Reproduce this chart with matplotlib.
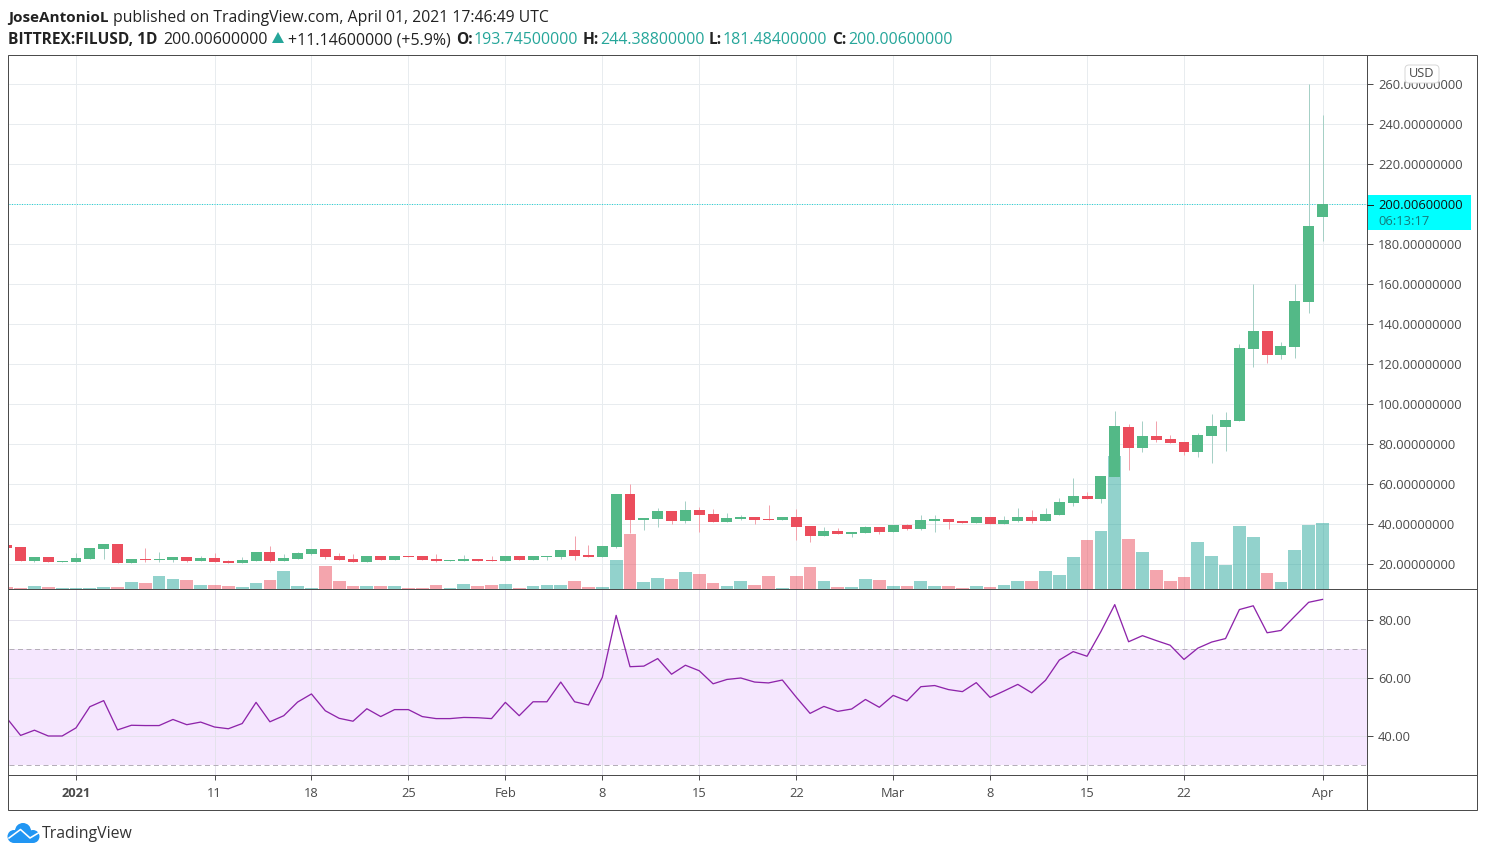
import matplotlib
matplotlib.use("Agg")
import matplotlib.pyplot as plt
from matplotlib.patches import Rectangle, FancyBboxPatch, Circle, Polygon

plt.rcParams['font.family'] = ['Open Sans', 'DejaVu Sans']

# ---------- data (day 0 = 1 Jan 2021) ----------
days = list(range(-5, 91))
opens = [29.3,28.7,21.7,23.7,21.2,21.2,22.7,27.7,30.2,20.7,22.7,22.2,22.2,23.7,21.7,23.2,21.7,20.7,21.7,26.2,
         21.7,22.7,25.2,27.7,24.2,22.7,21.2,24.2,22.2,24.2,24.2,22.7,21.7,21.7,22.7,22.2,
         21.7,24.2,22.2,23.7,23.7,27.2,24.7,23.7,28.7,55.2,42.2,42.7,46.7,41.7,47.2,45.2,41.2,42.7,43.7,42.7,42.2,
         43.7,39.2,34.2,36.7,35.2,35.7,38.7,36.2,39.7,37.7,41.7,42.7,41.7,40.7,43.7,
         40.2,41.7,43.7,41.7,44.7,50.7,54.2,52.7,63.7,88.7,78.2,84.2,82.7,81.2,76.2,84.2,88.7,91.7,127.5,136.5,124.5,128.7,151.0,193.7]
highs = [29.3,28.7,23.7,23.7,21.7,25.7,28.2,30.2,30.2,22.7,28.2,26.2,23.7,23.7,24.2,25.7,22.2,23.7,26.2,29.2,
         25.2,26.2,27.7,27.7,25.7,25.2,24.2,24.2,24.2,24.2,24.2,25.2,22.2,24.7,22.7,24.2,
         24.2,24.2,24.2,24.2,27.2,34.2,29.7,29.2,55.2,60.2,43.2,48.2,46.7,51.7,48.7,47.7,45.7,44.7,43.7,49.7,43.7,
         47.7,39.2,38.7,38.2,36.2,39.2,38.7,39.7,40.2,44.7,44.7,42.7,41.7,43.7,43.7,
         44.2,48.2,47.2,48.2,53.2,63.2,56.2,64.2,96.7,90.2,91.7,91.7,84.7,81.2,85.7,95.2,96.2,130.0,160.0,136.5,131.0,160.0,260.0,244.4]
lows = [28.2,21.7,21.2,20.8,21.2,21.2,22.7,22.7,20.7,20.7,21.2,20.8,21.2,21.2,21.7,21.2,20.7,20.7,21.7,21.2,
        21.7,22.7,24.7,22.7,22.2,21.2,21.2,22.2,22.2,23.7,22.2,21.2,21.7,21.7,21.7,21.7,
        21.7,22.2,22.2,22.2,22.7,22.2,23.7,23.7,28.2,35.7,37.2,38.7,40.2,40.7,36.2,41.2,41.2,42.2,40.2,42.2,42.2,
        32.2,31.2,34.2,35.2,33.7,35.7,35.2,36.2,37.2,37.2,36.2,37.7,40.7,40.7,40.2,
        40.2,41.2,40.7,41.7,44.7,49.2,52.7,50.7,63.7,67.2,76.2,81.2,80.7,74.7,73.7,70.7,76.7,91.7,118.7,120.5,122.5,123.0,145.5,181.5]
closes = [28.2,21.7,23.7,21.2,21.7,23.2,28.2,30.2,20.7,22.7,22.2,22.7,23.7,21.7,23.2,21.2,20.7,22.2,26.2,21.7,
          23.2,25.7,27.7,23.7,22.2,21.2,24.2,22.2,24.2,23.7,22.2,21.7,22.2,22.7,21.7,21.7,
          24.2,22.2,24.2,24.2,27.2,24.2,23.7,29.2,55.2,42.2,43.2,46.7,41.7,47.2,44.7,41.2,43.2,43.7,42.2,42.2,43.7,
          38.7,34.2,36.7,35.2,36.2,38.7,36.2,39.7,37.7,42.2,42.7,41.2,40.7,43.7,40.2,
          42.2,43.7,41.7,45.2,51.2,54.2,52.7,64.2,89.2,78.2,84.2,82.2,80.7,76.2,84.7,89.2,92.2,128.0,136.5,124.5,129.0,151.5,189.0,200.006]
volumes = [2,1,3,2,1,1,1,2,2,7,6,13,10,9,4,4,3,2,6,9,18,3,1,23,8,3,3,3,3,1,1,4,1,5,3,4,
           5,1,3,4,4,8,2,2,29,55,7,11,10,17,15,6,3,8,4,13,1,13,22,8,2,2,10,9,3,3,8,3,3,1,3,2,
           4,8,8,18,14,32,49,58,133,50,37,19,8,12,47,33,24,63,52,16,7,39,64,66]
rsi = [46.2,40.2,42.0,40.0,40.0,42.8,50.1,52.2,42.1,43.7,43.6,43.6,45.7,43.9,44.8,43.1,42.5,44.3,51.6,44.9,
       47.0,51.7,54.5,48.7,46.1,45.1,49.4,46.7,49.1,49.1,46.7,46.0,46.0,46.4,46.3,46.0,
       51.6,47.0,51.8,51.8,58.6,51.8,50.7,60.2,81.6,63.9,64.1,66.7,61.3,64.4,62.5,58.0,59.5,60.0,58.6,58.3,59.3,
       53.4,47.8,50.2,48.5,49.3,52.6,49.9,54.0,52.1,57.0,57.4,56.0,55.3,58.4,53.3,55.5,57.8,
       54.9,59.2,66.2,69.1,67.5,76.0,85.3,72.5,74.6,72.9,71.3,66.4,70.3,72.4,73.6,83.6,84.9,75.6,76.4,81.3,86.1,87.1]
xtick_days = [0,10,17,24,31,38,45,52,59,66,73,80,90]
xtick_labels = ['2021','11','18','25','Feb','8','15','22','Mar','8','15','22','Apr']
price_ticks = [20,40,60,80,100,120,140,160,180,200,220,240,260]
rsi_ticks = [40,60,80]
last_price = 200.006

# ---------- layout ----------
W, H = 1486, 857
UP, DOWN = '#53b987', '#eb4d5c'
UPW, DOWNW = '#a6d0c6', '#f2a3ad'
UPV, DOWNV = (38/255,166/255,154/255,0.5), (235/255,77/255,92/255,0.5)
GRID = '#e8ecef'
FRAME = '#4c4c4c'
TXT = '#4a4a4a'
px = 0.72

fig = plt.figure(figsize=(W/100, H/100), dpi=100, facecolor='white')
def box(l, t, r, b, **kw):
    return fig.add_axes([l/W, 1-b/H, (r-l)/W, (b-t)/H], **kw)

x0, xs = 76.0, 13.85
xlim = ((9-x0)/xs, (1367-x0)/xs)

# grid layer
ax_grid = box(9, 56, 1367, 589, zorder=0)
ax_grid.set_xlim(xlim); ax_grid.set_ylim(7.5, 274)
ax_grid.set_xticks(xtick_days); ax_grid.set_yticks(price_ticks)
ax_grid.grid(True, color=GRID, lw=1*px)
ax_grid.tick_params(length=0, labelbottom=False, labelleft=False)
for s in ax_grid.spines.values(): s.set_visible(False)

# volume layer
ax_vol = box(9, 56, 1367, 589, zorder=1)
ax_vol.patch.set_visible(False)
ax_vol.set_xlim(xlim); ax_vol.set_ylim(0, 533)
ax_vol.bar(days, volumes, width=0.92,
           color=[UPV if c >= o else DOWNV for o, c in zip(opens, closes)], linewidth=0)
ax_vol.axis('off')

# candle layer
ax = box(9, 56, 1367, 589, zorder=2)
ax.patch.set_visible(False)
ax.set_xlim(xlim); ax.set_ylim(7.5, 274)
ups = [c >= o for o, c in zip(opens, closes)]
ax.vlines(days, lows, highs, colors=[UPW if u else DOWNW for u in ups], lw=1.0*px, zorder=2)
ax.bar(days, [abs(c-o) for o, c in zip(opens, closes)], bottom=[min(o, c) for o, c in zip(opens, closes)],
       width=0.79, color=[UP if u else DOWN for u in ups], linewidth=0, zorder=3)
ax.axhline(last_price, color='#25d8d8', lw=1*px, ls=(0, (1, 1.5)), zorder=1)
ax.yaxis.tick_right()
ax.set_yticks(price_ticks)
ax.set_yticklabels(['' if t == 200 else f'{t:.8f}' for t in price_ticks], fontsize=9.3, color=TXT)
ax.tick_params(axis='y', length=6*px, width=1*px, color=FRAME, pad=5*px)
ax.set_xticks([])
for s in ax.spines.values(): s.set_visible(False)

# RSI pane
ar = box(9, 590, 1367, 775, zorder=2)
ar.set_xlim(xlim)
ar.set_ylim(80-(775-620)/2.9, 80+(620-590)/2.9)
ar.axhspan(30, 70, color='#f5e7fe', lw=0, zorder=0)
ar.set_xticks(xtick_days); ar.set_xticklabels(xtick_labels, fontsize=9.3, color=TXT)
ar.get_xticklabels()[0].set_fontweight('bold')
ar.yaxis.tick_right()
ar.set_yticks(rsi_ticks); ar.set_yticklabels([f'{t:.2f}' for t in rsi_ticks], fontsize=9.3, color=TXT)
ar.set_axisbelow(True)
ar.grid(True, color='#e4e2ec', lw=1*px)
ar.tick_params(axis='y', length=6*px, width=1*px, color=FRAME, pad=5*px)
ar.tick_params(axis='x', length=5*px, width=1*px, color=FRAME, pad=7*px)
for lv in (30, 70):
    ar.axhline(lv, color='#b5afb9', lw=1*px, ls=(0, (5, 3.5)), zorder=1)
ar.plot(days, rsi, color='#8e24aa', lw=1.3*px, zorder=3)
for s in ar.spines.values(): s.set_visible(False)

# overlay in pixel coordinates: frame, labels, header, logo
ov = fig.add_axes([0, 0, 1, 1], zorder=5)
ov.set_xlim(0, W); ov.set_ylim(H, 0); ov.axis('off'); ov.patch.set_visible(False)
ov.add_patch(Rectangle((7.5, 54.5), 1469, 755, fill=False, ec=FRAME, lw=1*px))
ov.plot([7.5, 1476.5], [588.5, 588.5], color=FRAME, lw=1*px)
ov.plot([7.5, 1476.5], [774.5, 774.5], color=FRAME, lw=1*px)
ov.plot([1366.5, 1366.5], [54.5, 809.5], color=FRAME, lw=1*px)

# last price tag
ov.add_patch(Rectangle((1367, 195), 104, 35, fc='#00ffff', ec='none'))
ov.plot([1367, 1373], [204.5, 204.5], color='#222222', lw=1*px)
ov.text(1378, 205, '200.00600000', fontsize=9.3, color='#111111', va='center', ha='left')
ov.text(1378, 221, '06:13:17', fontsize=9.3, color='#147a7a', va='center', ha='left')

# USD badge
ov.add_patch(FancyBboxPatch((1405, 65), 34, 18, boxstyle='round,pad=0,rounding_size=4',
                            fc='white', ec='#d8d8d8', lw=1*px))
ov.text(1422, 73.5, 'USD', fontsize=9.2, color=TXT, va='center', ha='center')

# header
def t(x, y, s, color='#222222', weight='normal', size=11.5):
    ov.text(x, y, s, fontsize=size, color=color, fontweight=weight, va='center', ha='left')
TEAL = '#26a69a'
t(8, 18, 'JoseAntonioL', weight='bold', size=11.0)
t(113, 18, 'published on TradingView.com, April 01, 2021 17:46:49 UTC', size=11.3)
t(8, 40, 'BITTREX:FILUSD, 1D', weight='bold', size=11.2)
t(163, 40, '200.00600000')
ov.add_patch(Polygon([[272, 43], [284, 43], [278, 32]], fc=TEAL, ec='none'))
t(288, 40, '+11.14600000 (+5.9%)')
for lx, lab, vx, val in [(456, 'O:', 474, '193.74500000'), (583, 'H:', 600, '244.38800000'),
                         (709, 'L:', 723, '181.48400000'), (832, 'C:', 848, '200.00600000')]:
    t(lx, 40, lab, weight='bold', size=11.2)
    t(vx, 40, val, color=TEAL)

# logo
BLUE = '#2196f3'
for cx, cy, r in [(14, 836.5, 6.5), (23, 831, 8), (33, 836.5, 6.5)]:
    ov.add_patch(Circle((cx, cy), r, fc=BLUE, ec='none'))
ov.add_patch(Rectangle((14, 834), 19, 9, fc=BLUE, ec='none'))
ov.plot([9, 20.5, 30, 40], [838, 829.5, 838, 832], color='white', lw=1.6*px)
ov.text(42, 834.5, 'TradingView', fontsize=11.4, color='#333333', va='center', ha='left')

fig.savefig('out.png', dpi=100, facecolor='white')
